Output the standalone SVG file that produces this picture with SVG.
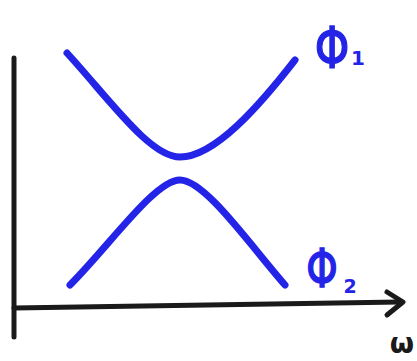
<svg xmlns="http://www.w3.org/2000/svg" width="417" height="361" viewBox="0 0 417 361">
<style>
.curve{fill:none;stroke:#2424e8;stroke-width:7;stroke-linecap:round;stroke-linejoin:round}
.axis{fill:none;stroke:#1a1a1a;stroke-width:5;stroke-linecap:round;stroke-linejoin:round}
.lbl{font-family:"DejaVu Sans",sans-serif;fill:#2424e8;stroke:#2424e8;stroke-width:1.2;text-anchor:middle}
.sub{font-family:"DejaVu Sans",sans-serif;fill:#2424e8;font-weight:bold;text-anchor:middle}
</style>
<rect width="417" height="361" fill="#ffffff"/>
<g id="axes">
<path class="axis" d="M14,58 L14,337"/>
<path class="axis" d="M14,308 L400,302"/>
<path class="axis" d="M387,292 L403,302 L387,315" fill="#1a1a1a"/>
<text x="414" y="353" text-anchor="end" font-family="DejaVu Sans, sans-serif" font-size="28" font-weight="bold" fill="#1a1a1a">ω</text>
</g>
<g id="phi1">
<path class="curve" d="M67,53 C110,100 150,157 180,157 C215,157 260,105 295,60"/>
<text class="lbl" font-size="44" transform="translate(332,68) scale(1,1.3)">Φ</text>
<text class="sub" x="358" y="65" font-size="20">1</text>
</g>
<g id="phi2">
<path class="curve" d="M70,285 C110,245 155,180 180,180 C205,180 250,245 285,285"/>
<text class="lbl" font-size="40" transform="translate(322,287) scale(1,1.35)">Φ</text>
<text class="sub" x="350" y="293" font-size="19">2</text>
</g>
</svg>
